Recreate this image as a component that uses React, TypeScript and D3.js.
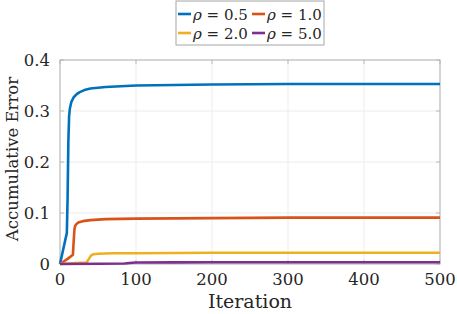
import React from "react";
import * as d3 from "d3";

const seriesNames = ["ρ = 0.5", "ρ = 1.0", "ρ = 2.0", "ρ = 5.0"];
const seriesColors = ["#0072BD", "#D95319", "#EDB120", "#7E2F8E"];

const iterBlue = [0, 5, 9, 10, 11, 12, 13, 15, 18, 22, 26, 32, 40, 60, 100, 150, 200, 300, 400, 500];
const valBlue = [0, 0.034, 0.061, 0.13, 0.24, 0.29, 0.305, 0.318, 0.327, 0.333, 0.337, 0.341, 0.344, 0.347, 0.350, 0.351, 0.352, 0.353, 0.353, 0.353];

const iterOrange = [0, 10, 17, 18, 19, 20, 22, 25, 30, 40, 60, 100, 200, 300, 400, 500];
const valOrange = [0, 0.01, 0.018, 0.045, 0.068, 0.075, 0.079, 0.082, 0.084, 0.086, 0.088, 0.089, 0.090, 0.091, 0.091, 0.091];

const iterYellow = [0, 20, 35, 38, 41, 44, 50, 70, 100, 200, 300, 400, 500];
const valYellow = [0, 0.002, 0.003, 0.01, 0.017, 0.019, 0.02, 0.021, 0.021, 0.022, 0.022, 0.022, 0.022];

const iterPurple = [0, 50, 85, 95, 100, 150, 200, 300, 400, 500];
const valPurple = [0, 0.0005, 0.001, 0.0025, 0.003, 0.0032, 0.0033, 0.0033, 0.0033, 0.0033];

const xTicks = [0, 100, 200, 300, 400, 500];
const yTicks = [0, 0.1, 0.2, 0.3, 0.4];
const yTickLabels = ["0", "0.1", "0.2", "0.3", "0.4"];

const FONT = "'DejaVu Serif', serif";

export default function App() {
  const W = 457, H = 314;
  const left = 60, right = 440, top = 60, bottom = 264;
  const x = d3.scaleLinear().domain([0, 500]).range([left, right]);
  const y = d3.scaleLinear().domain([0, 0.4]).range([bottom, top]);
  const line = d3.line<[number, number]>().x(d => x(d[0])).y(d => y(d[1]));
  const series = [
    d3.zip(iterBlue, valBlue),
    d3.zip(iterOrange, valOrange),
    d3.zip(iterYellow, valYellow),
    d3.zip(iterPurple, valPurple),
  ] as [number, number][][];

  const legendX = 176, legendY = 1, legendW = 148, legendH = 44;
  const colW = 74, rowH = 19;

  return (
    <svg width={W} height={H} style={{ position: "absolute", left: 0, top: 0 }}>
      <rect x={0} y={0} width={W} height={H} fill="#fff" />
      {xTicks.map(t => (
        <line key={"gx" + t} x1={x(t)} x2={x(t)} y1={top} y2={bottom} stroke="#ececec" strokeWidth={1} />
      ))}
      {yTicks.map(t => (
        <line key={"gy" + t} x1={left} x2={right} y1={y(t)} y2={y(t)} stroke="#ececec" strokeWidth={1} />
      ))}
      {xTicks.map(t => (
        <g key={"tx" + t}>
          <line x1={x(t)} x2={x(t)} y1={bottom} y2={bottom - 4} stroke="#bbb" />
          <line x1={x(t)} x2={x(t)} y1={top} y2={top + 4} stroke="#bbb" />
        </g>
      ))}
      {yTicks.map(t => (
        <g key={"ty" + t}>
          <line x1={left} x2={left + 4} y1={y(t)} y2={y(t)} stroke="#bbb" />
          <line x1={right} x2={right - 4} y1={y(t)} y2={y(t)} stroke="#bbb" />
        </g>
      ))}
      <rect x={left} y={top} width={right - left} height={bottom - top} fill="none" stroke="#b3b3b3" strokeWidth={1} />
      {series.map((s, i) => (
        <path key={i} d={line(s) || ""} fill="none" stroke={seriesColors[i]} strokeWidth={2.6} strokeLinejoin="round" />
      ))}
      {xTicks.map(t => (
        <text key={"lx" + t} x={x(t)} y={285} textAnchor="middle" fontFamily={FONT} fontSize={16.5} fill="#262626">{t}</text>
      ))}
      {yTicks.map((t, i) => (
        <text key={"ly" + t} x={50} y={y(t) + 6} textAnchor="end" fontFamily={FONT} fontSize={16.5} fill="#262626">{yTickLabels[i]}</text>
      ))}
      <text x={(left + right) / 2} y={308} textAnchor="middle" fontFamily={FONT} fontSize={19} fill="#262626">Iteration</text>
      <text transform={`translate(18,${(top + bottom) / 2 - 3}) rotate(-90)`} textAnchor="middle" fontFamily={FONT} fontSize={16.5} fill="#262626">Accumulative Error</text>
      <rect x={legendX} y={legendY} width={legendW} height={legendH} fill="#fff" stroke="#a6a6a6" strokeWidth={1} />
      {seriesNames.map((name, i) => {
        const col = i % 2, row = Math.floor(i / 2);
        const lx = legendX + 2 + col * colW;
        const ly = legendY + 13 + row * rowH;
        const parts = name.split(" = ");
        return (
          <g key={name}>
            <line x1={lx} x2={lx + 13} y1={ly} y2={ly} stroke={seriesColors[i]} strokeWidth={2.6} />
            <text x={lx + 15} y={ly + 6} fontFamily={FONT} fontSize={15} fill="#262626">
              <tspan fontStyle="italic">{parts[0]}</tspan>
              <tspan>{" = " + parts[1]}</tspan>
            </text>
          </g>
        );
      })}
    </svg>
  );
}
